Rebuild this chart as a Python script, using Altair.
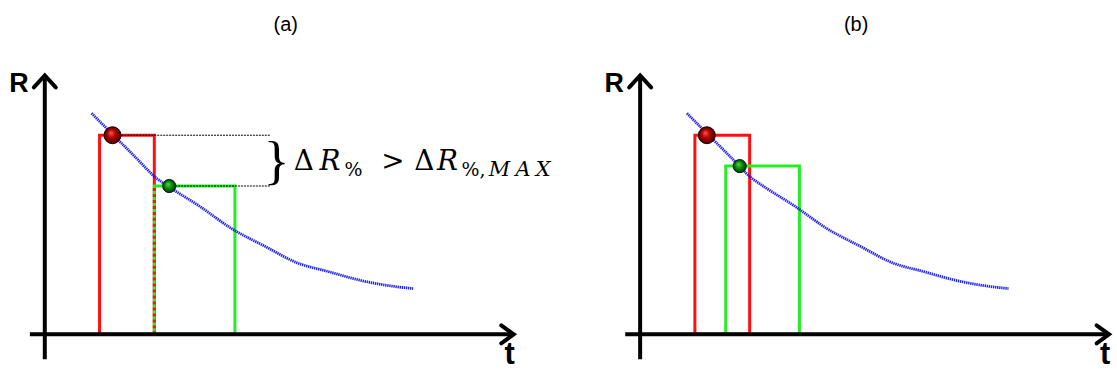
import altair as alt
import pandas as pd

# ---------------- data (t and R in arbitrary units) ----------------
T_DOMAIN = [-0.9, 9.5]
R_DOMAIN = [-0.78, 6.7]

# sampled resistance curve (same in both panels)
curve_t = [0.94, 1.36, 1.80, 2.24, 2.50, 3.10, 3.76, 4.44, 5.06, 5.70, 6.36, 7.04, 7.40]
curve_R = [4.44, 4.02, 3.58, 3.14, 2.96, 2.58, 2.12, 1.76, 1.44, 1.26, 1.08, 0.96, 0.92]

panel_names = ["(a)", "(b)"]
red_t0 = [1.10, 1.10]
red_t1 = [2.20, 2.20]
red_top = [4.00, 4.00]
green_t0 = [2.20, 1.72]
green_t1 = [3.82, 3.20]
green_top = [2.98, 3.38]
red_dot_t = [1.36, 1.34]
green_dot_t = [2.50, 2.00]
title_t = [4.84, 4.34]

# axis extents
axis_t = [-0.30, 9.42]
axis_R = [-0.50, 5.20]

# panel (a) annotation
guide_end_t = 4.54
brace_t, brace_R = 4.66, 3.46
math_big_labels = ["Δ", ">", "Δ"]
math_big_t = [5.00, 6.76, 7.42]
math_it_labels = ["R", "R"]
math_it_t = [5.52, 7.88]
math_big_R = 3.30
math_sub_labels = ["%", "%,"]
math_sub_t = [6.02, 8.37]
math_subit_labels = ["M\u2005A\u2005X"]
math_subit_t = [8.92]
math_sub_R = 3.18

X = lambda f="t": alt.X(f"{f}:Q", scale=alt.Scale(domain=T_DOMAIN, nice=False, zero=False), axis=None)
Y = lambda f="R": alt.Y(f"{f}:Q", scale=alt.Scale(domain=R_DOMAIN, nice=False, zero=False), axis=None)


def text_layer(labels, ts, Rs, **kw):
    df = pd.DataFrame({"label": labels, "t": ts, "R": Rs})
    return alt.Chart(df).mark_text(**kw).encode(x=X(), y=Y(), text="label:N")


red_grad = alt.RadialGradient(
    gradient="radial",
    stops=[alt.GradientStop(color="#ff5a4a", offset=0),
           alt.GradientStop(color="#b00000", offset=0.45),
           alt.GradientStop(color="#3a0000", offset=1)],
    x1=0.4, y1=0.35, r1=0, x2=0.5, y2=0.5, r2=0.55)
green_grad = alt.RadialGradient(
    gradient="radial",
    stops=[alt.GradientStop(color="#4ce04c", offset=0),
           alt.GradientStop(color="#109010", offset=0.45),
           alt.GradientStop(color="#022a02", offset=1)],
    x1=0.4, y1=0.35, r1=0, x2=0.5, y2=0.5, r2=0.55)


def panel(i):
    layers = []
    # rectangles
    rects = pd.DataFrame({
        "t": [red_t0[i], green_t0[i]], "t2": [red_t1[i], green_t1[i]],
        "R": [0.0, 0.0], "R2": [red_top[i], green_top[i]],
        "c": ["#ff1010", "#22ee22"]})
    layers.append(alt.Chart(rects).mark_rect(fillOpacity=0, strokeWidth=3).encode(
        x=X(), x2="t2:Q", y=Y(), y2="R2:Q", stroke=alt.Stroke("c:N", scale=None)))
    if i == 0:
        dash = pd.DataFrame({"t": [red_t1[i]], "R": [0.0], "R2": [green_top[i]]})
        layers.append(alt.Chart(dash).mark_rule(color="#ff1010", strokeWidth=3, strokeDash=[3, 3]).encode(
            x=X(), y=Y(), y2="R2:Q"))
    # curve
    cdf = pd.DataFrame({"t": curve_t, "R": curve_R})
    layers.append(alt.Chart(cdf).mark_line(color="#0a0af0", strokeWidth=2.8, strokeDash=[1.4, 0.7],
                                           interpolate="monotone", opacity=0.9).encode(x=X(), y=Y()))
    if i == 0:
        g = pd.DataFrame({"t": [red_dot_t[i], green_dot_t[i]], "t2": [guide_end_t, guide_end_t],
                          "R": [red_top[i], green_top[i]]})
        layers.append(alt.Chart(g).mark_rule(color="#000000", strokeWidth=1, strokeDash=[2, 1]).encode(
            x=X(), x2="t2:Q", y=Y()))
    # dots
    rd = pd.DataFrame({"t": [red_dot_t[i]], "R": [red_top[i]]})
    gd = pd.DataFrame({"t": [green_dot_t[i]], "R": [green_top[i]]})
    layers.append(alt.Chart(rd).mark_point(shape="circle", filled=True, fill=red_grad, opacity=1,
                                           stroke="#1a0000", strokeWidth=1, size=290).encode(x=X(), y=Y()))
    layers.append(alt.Chart(gd).mark_point(shape="circle", filled=True, fill=green_grad, opacity=1,
                                           stroke="#001a00", strokeWidth=1, size=175).encode(x=X(), y=Y()))
    # axes
    ax = pd.DataFrame({"t": [axis_t[0], 0.0], "t2": [axis_t[1], 0.0],
                       "R": [0.0, axis_R[0]], "R2": [0.0, axis_R[1]]})
    layers.append(alt.Chart(ax).mark_rule(color="black", strokeWidth=4).encode(
        x=X(), x2="t2:Q", y=Y(), y2="R2:Q"))
    heads = pd.DataFrame({
        "g": ["x", "x", "x", "y", "y", "y"],
        "o": [0, 1, 2, 0, 1, 2],
        "t": [axis_t[1] - 0.25, axis_t[1], axis_t[1] - 0.25, -0.22, 0.0, 0.22],
        "R": [0.18, 0.0, -0.18, axis_R[1] - 0.24, axis_R[1], axis_R[1] - 0.24]})
    layers.append(alt.Chart(heads).mark_line(color="black", strokeWidth=4, strokeCap="round",
                                             strokeJoin="miter").encode(
        x=X(), y=Y(), detail="g:N", order="o:Q"))
    # labels
    layers.append(text_layer(["R"], [-0.52], [4.86], font="Liberation Sans", fontWeight="bold",
                             fontSize=27, align="center", baseline="alphabetic"))
    layers.append(text_layer(["t"], [9.34], [-0.60], font="Liberation Sans", fontWeight="bold",
                             fontSize=31, align="center", baseline="alphabetic"))
    layers.append(text_layer([panel_names[i]], [title_t[i]], [6.10], font="Liberation Sans",
                             fontSize=20, align="center", baseline="alphabetic"))
    if i == 0:
        layers.append(text_layer(["}"], [brace_t], [brace_R], font="Liberation Serif",
                                 fontSize=54, align="center", baseline="middle"))
        layers.append(text_layer(math_big_labels, math_big_t, [math_big_R] * 3, font="DejaVu Serif",
                                 fontSize=28, align="left", baseline="alphabetic"))
        layers.append(text_layer(math_it_labels, math_it_t, [math_big_R] * 2, font="DejaVu Serif",
                                 fontStyle="italic", fontSize=28, align="left", baseline="alphabetic"))
        layers.append(text_layer(math_sub_labels, math_sub_t, [math_sub_R] * 2, font="DejaVu Serif",
                                 fontSize=19, align="left", baseline="alphabetic"))
        layers.append(text_layer(math_subit_labels, math_subit_t, [math_sub_R], font="DejaVu Serif",
                                 fontStyle="italic", fontSize=21, align="left", baseline="alphabetic"))
    return alt.layer(*layers).properties(width=520, height=374)


chart = alt.hconcat(panel(0), panel(1), spacing=78, padding=0, bounds="flush").configure_view(stroke=None)
chart.save("out.html", embed_options={"renderer": "svg", "actions": False})
